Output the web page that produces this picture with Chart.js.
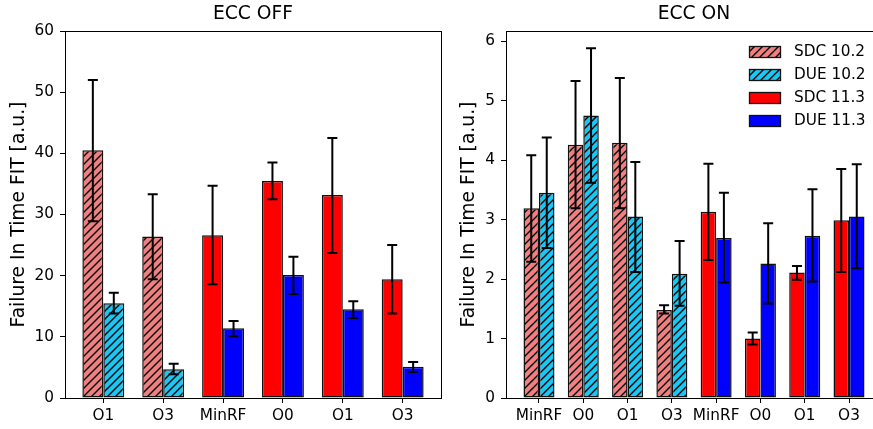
<!DOCTYPE html>
<html>
<head>
<meta charset="utf-8">
<script src="https://cdn.jsdelivr.net/npm/chart.js@4"></script>
<style>
  html, body { margin: 0; padding: 0; background: #fff; }
  #wrap { position: relative; width: 873px; height: 429px; overflow: hidden; }
  canvas { position: absolute; top: 0; }
  #offChart { left: 0; }
  #onChart { left: 441px; }
</style>
</head>
<body>
<div id="wrap">
  <canvas id="offChart" width="443" height="429"></canvas>
  <canvas id="onChart" width="443" height="429"></canvas>
</div>
<script>
// ECC OFF
const offLabels = ["O1", "O3", "MinRF", "O0", "O1", "O3"];
const offVersion = ["10.2", "10.2", "11.3", "11.3", "11.3", "11.3"];
const offSdc = [40.5, 26.4, 26.6, 35.5, 33.2, 19.4];
const offSdcLo = [28.9, 19.4, 18.6, 32.5, 23.7, 13.8];
const offSdcHi = [52.0, 33.3, 34.7, 38.5, 42.5, 25.0];
const offDue = [15.5, 4.7, 11.4, 20.1, 14.5, 5.1];
const offDueLo = [13.8, 3.9, 10.1, 17.0, 13.1, 4.25];
const offDueHi = [17.2, 5.6, 12.6, 23.1, 15.8, 5.9];
const offTicks = [0, 10, 20, 30, 40, 50, 60];

// ECC ON
const onLabels = ["MinRF", "O0", "O1", "O3", "MinRF", "O0", "O1", "O3"];
const onVersion = ["10.2", "10.2", "10.2", "10.2", "11.3", "11.3", "11.3", "11.3"];
const onSdc = [3.19, 4.26, 4.29, 1.48, 3.13, 1.0, 2.11, 2.99];
const onSdcLo = [2.29, 3.19, 3.19, 1.42, 2.32, 0.90, 1.99, 2.12];
const onSdcHi = [4.08, 5.33, 5.38, 1.56, 3.94, 1.10, 2.22, 3.85];
const onDue = [3.45, 4.75, 3.05, 2.09, 2.69, 2.26, 2.73, 3.05];
const onDueLo = [2.52, 3.62, 2.12, 1.55, 1.94, 1.59, 1.96, 2.18];
const onDueHi = [4.38, 5.88, 3.97, 2.64, 3.45, 2.94, 3.51, 3.93];
const onTicks = [0, 1, 2, 3, 4, 5, 6];

const legendLabels = ["SDC 10.2", "DUE 10.2", "SDC 11.3", "DUE 11.3"];

const FONT = "'DejaVu Sans', sans-serif";
const colors = {
  sdcOld: "#f08080",
  dueOld: "#1bc6f2",
  sdcNew: "#ff0000",
  dueNew: "#0000ff"
};

function hatch(bg) {
  const s = 8;
  const c = document.createElement("canvas");
  c.width = s;
  c.height = s;
  const g = c.getContext("2d");
  g.fillStyle = bg;
  g.fillRect(0, 0, s, s);
  g.strokeStyle = "#000";
  g.lineWidth = 1.4;
  g.beginPath();
  g.moveTo(0, s); g.lineTo(s, 0);
  g.moveTo(-2, 2); g.lineTo(2, -2);
  g.moveTo(s - 2, s + 2); g.lineTo(s + 2, s - 2);
  g.stroke();
  return g.createPattern(c, "repeat");
}

const fills = {
  sdcOld: hatch(colors.sdcOld),
  dueOld: hatch(colors.dueOld),
  sdcNew: colors.sdcNew,
  dueNew: colors.dueNew
};

const errorBars = {
  id: "errorBars",
  afterDatasetsDraw(chart) {
    const ctx = chart.ctx;
    const y = chart.scales.y;
    ctx.save();
    ctx.strokeStyle = "#000";
    ctx.lineWidth = 2;
    chart.data.datasets.forEach((ds, d) => {
      chart.getDatasetMeta(d).data.forEach((bar, i) => {
        const top = y.getPixelForValue(ds.errHi[i]);
        const bot = y.getPixelForValue(ds.errLo[i]);
        ctx.beginPath();
        ctx.moveTo(bar.x, top); ctx.lineTo(bar.x, bot);
        ctx.moveTo(bar.x - 5, top); ctx.lineTo(bar.x + 5, top);
        ctx.moveTo(bar.x - 5, bot); ctx.lineTo(bar.x + 5, bot);
        ctx.stroke();
      });
    });
    ctx.restore();
  }
};

const frame = {
  id: "frame",
  afterDraw(chart) {
    const a = chart.chartArea;
    const ctx = chart.ctx;
    ctx.save();
    ctx.strokeStyle = "#000";
    ctx.lineWidth = 1;
    ctx.strokeRect(Math.round(a.left) + 0.5, Math.round(a.top) + 0.5,
      Math.round(a.right - a.left), Math.round(a.bottom - a.top));
    ctx.restore();
  }
};

const legendBox = {
  id: "legendBox",
  afterDraw(chart) {
    const a = chart.chartArea;
    const ctx = chart.ctx;
    const swatches = [fills.sdcOld, fills.dueOld, fills.sdcNew, fills.dueNew];
    const x0 = a.right - 133;
    ctx.save();
    ctx.font = "15.3px " + FONT;
    ctx.textBaseline = "middle";
    legendLabels.forEach((lbl, i) => {
      const cy = a.top + 20.5 + i * 23;
      ctx.fillStyle = swatches[i];
      ctx.fillRect(x0, cy - 5.5, 32, 11);
      ctx.strokeStyle = "#111";
      ctx.lineWidth = 1.3;
      ctx.strokeRect(x0 + 0.5, Math.round(cy - 5.5) + 0.5, 31, 11);
      ctx.fillStyle = "#000";
      ctx.fillText(lbl, x0 + 45, cy);
    });
    ctx.restore();
  }
};

function makeChart(id, cfg) {
  const pick = (v, oldFill, newFill) => cfg.version.map(x => x === "10.2" ? oldFill : newFill);
  const barStyle = {
    borderColor: "#111",
    borderWidth: 1.5,
    borderSkipped: false
  };
  const plugins = [errorBars, frame];
  if (cfg.legend) plugins.push(legendBox);

  return new Chart(document.getElementById(id), {
    type: "bar",
    data: {
      datasets: [
        Object.assign({
          label: "SDC",
          data: cfg.sdc.map((v, i) => ({ x: i, y: v })),
          errLo: cfg.sdcLo,
          errHi: cfg.sdcHi,
          backgroundColor: pick(cfg.version, fills.sdcOld, fills.sdcNew)
        }, barStyle),
        Object.assign({
          label: "DUE",
          data: cfg.due.map((v, i) => ({ x: i, y: v })),
          errLo: cfg.dueLo,
          errHi: cfg.dueHi,
          backgroundColor: pick(cfg.version, fills.dueOld, fills.dueNew)
        }, barStyle)
      ]
    },
    options: {
      responsive: false,
      animation: false,
      devicePixelRatio: 1,
      categoryPercentage: 0.7,
      barPercentage: 1,
      layout: { padding: { left: 0, right: 2, top: 0, bottom: 0 } },
      plugins: {
        legend: { display: false },
        tooltip: { enabled: false },
        title: {
          display: true,
          text: cfg.title,
          color: "#000",
          fullSize: false,
          font: { family: FONT, size: 18.7, weight: "normal" },
          padding: { top: 3, bottom: 5.6 }
        }
      },
      scales: {
        x: {
          type: "linear",
          min: cfg.xMin,
          max: cfg.xMax,
          offset: false,
          afterFit(s) { s.height = 31; },
          afterBuildTicks(s) { s.ticks = cfg.labels.map((_, i) => ({ value: i })); },
          grid: { drawOnChartArea: false, offset: false, tickLength: 5, tickColor: "#000", tickWidth: 1 },
          border: { color: "#000", width: 1 },
          ticks: {
            color: "#000",
            font: { family: FONT, size: 15.3 },
            padding: 4,
            maxRotation: 0,
            autoSkip: false,
            callback: v => cfg.labels[v]
          }
        },
        y: {
          min: 0,
          max: cfg.yMax,
          afterFit(s) { s.width = 65; },
          afterBuildTicks(s) { s.ticks = cfg.yTicks.map(v => ({ value: v })); },
          grid: { drawOnChartArea: false, tickLength: 5, tickColor: "#000", tickWidth: 1 },
          border: { color: "#000", width: 1 },
          ticks: { color: "#000", font: { family: FONT, size: 15.3 }, padding: 6 },
          title: {
            display: true,
            text: "Failure In Time FIT [a.u.]",
            color: "#000",
            font: { family: FONT, size: 18.7 },
            padding: { top: cfg.yTitlePad, bottom: 0 }
          }
        }
      }
    },
    plugins: plugins
  });
}

makeChart("offChart", {
  title: "ECC OFF",
  labels: offLabels, version: offVersion,
  sdc: offSdc, sdcLo: offSdcLo, sdcHi: offSdcHi,
  due: offDue, dueLo: offDueLo, dueHi: offDueHi,
  xMin: -0.64, xMax: 5.64, yMax: 60, yTicks: offTicks,
  yTitlePad: 8, legend: false
});

makeChart("onChart", {
  title: "ECC ON",
  labels: onLabels, version: onVersion,
  sdc: onSdc, sdcLo: onSdcLo, sdcHi: onSdcHi,
  due: onDue, dueLo: onDueLo, dueHi: onDueHi,
  xMin: -0.745, xMax: 7.745, yMax: 6.17, yTicks: onTicks,
  yTitlePad: 17, legend: true
});
</script>
</body>
</html>
